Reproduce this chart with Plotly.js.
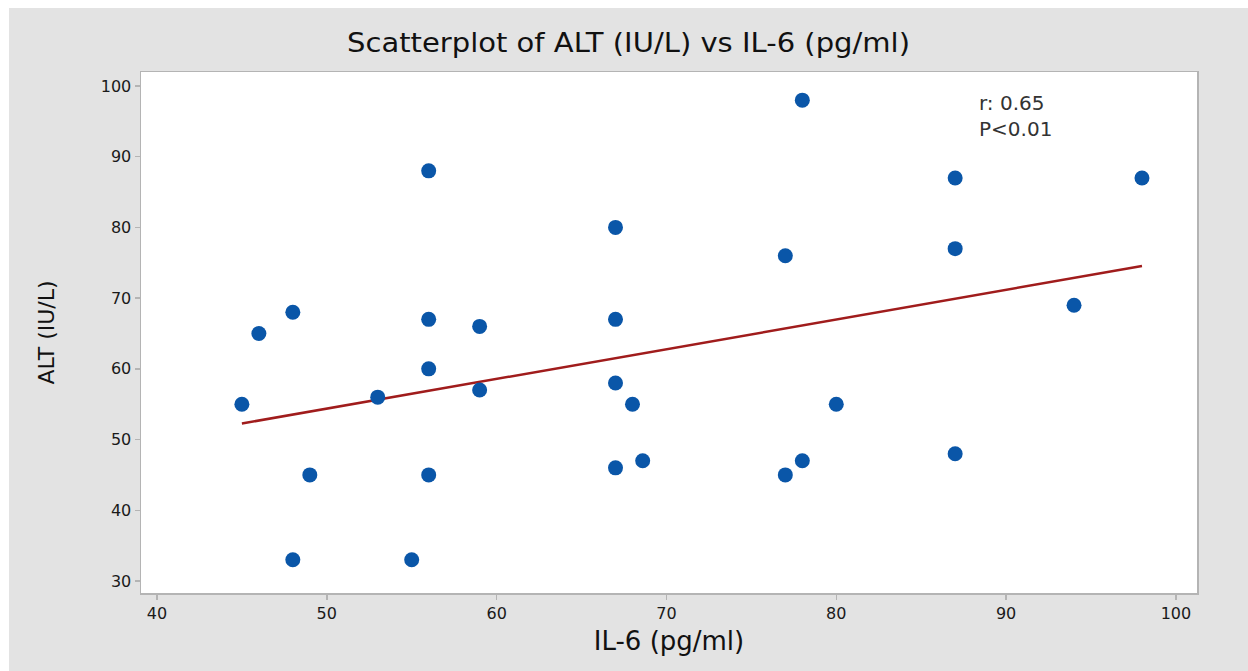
<!DOCTYPE html>
<html>
<head>
<meta charset="utf-8">
<script src="https://cdn.plot.ly/plotly-3.0.1.min.js"></script>
<style>
html,body{margin:0;padding:0;background:#ffffff;width:1248px;height:671px;overflow:hidden;}
#chart{position:absolute;left:9px;top:8px;width:1239px;height:663px;}
</style>
</head>
<body>
<div id="chart"></div>
<script>
// IL-6 (pg/ml) values
const il6 = [45, 46, 48, 48, 49, 53, 55, 56, 56, 56, 56, 59, 59, 67, 67, 67, 67, 68, 68.6, 77, 77, 78, 78, 80, 87, 87, 87, 94, 98];
// ALT (IU/L) values
const alt = [55, 65, 68, 33, 45, 56, 33, 88, 67, 60, 45, 66, 57, 80, 67, 58, 46, 55, 47, 76, 45, 98, 47, 55, 87, 77, 48, 69, 87];
const xTicks = [40, 50, 60, 70, 80, 90, 100];
const yTicks = [30, 40, 50, 60, 70, 80, 90, 100];
const statLines = ["r: 0.65", "P<0.01"];

// least squares fit
const n = il6.length;
const mx = il6.reduce((a, b) => a + b, 0) / n;
const my = alt.reduce((a, b) => a + b, 0) / n;
let sxy = 0, sxx = 0;
for (let i = 0; i < n; i++) { sxy += (il6[i] - mx) * (alt[i] - my); sxx += (il6[i] - mx) ** 2; }
const slope = sxy / sxx, icpt = my - slope * mx;
const xmin = Math.min(...il6), xmax = Math.max(...il6);
const fitX = [xmin, xmax];
const fitY = fitX.map(v => icpt + slope * v);

const font = "DejaVu Sans, sans-serif";
const traces = [
  {x: fitX, y: fitY, mode: 'lines', type: 'scatter', line: {color: '#a01c1c', width: 2.5}, hoverinfo: 'skip', showlegend: false},
  {x: il6, y: alt, mode: 'markers', type: 'scatter', marker: {color: '#0a56a8', size: 15, symbol: 'circle'}, showlegend: false}
];
const axisCommon = {
  showgrid: false, zeroline: false, showline: true, mirror: true, linecolor: '#b4b4b4', linewidth: 1.5,
  ticks: 'outside', ticklen: 5, tickcolor: '#b4b4b4', tickwidth: 1.5,
  tickfont: {family: font, size: 16, color: '#1a1a1a'}
};
const layout = {
  width: 1239, height: 663,
  paper_bgcolor: '#e3e3e3', plot_bgcolor: '#ffffff',
  margin: {l: 132, r: 51, t: 64, b: 78},
  title: {text: 'Scatterplot of ALT (IU/L) vs IL-6 (pg/ml)', font: {family: font, size: 26, color: '#111'}, x: 0.5, xanchor: 'center', y: 0.947, yanchor: 'middle'},
  xaxis: Object.assign({}, axisCommon, {range: [39.06, 101.24], tickvals: xTicks, ticktext: xTicks.map(String),
    title: {text: 'IL-6 (pg/ml)', font: {family: font, size: 26, color: '#111'}, standoff: 10}}),
  yaxis: Object.assign({}, axisCommon, {range: [28.3, 101.98], tickvals: yTicks, ticktext: yTicks.map(String),
    title: {text: 'ALT (IU/L)', font: {family: font, size: 22, color: '#111'}, standoff: 40}}),
  annotations: [
    {text: statLines.join('<br>'), xref: 'paper', yref: 'paper', x: 0.7917, y: 0.967, xanchor: 'left', yanchor: 'top', align: 'left', showarrow: false,
     font: {family: font, size: 20, color: '#333'}}
  ]
};
Plotly.newPlot('chart', traces, layout, {displayModeBar: false, staticPlot: true}).then(() => {
  const t = document.querySelector('#chart .gtitle');
  if (t) { t.setAttribute('textLength', '563'); t.setAttribute('lengthAdjust', 'spacingAndGlyphs'); }
});
</script>
</body>
</html>
